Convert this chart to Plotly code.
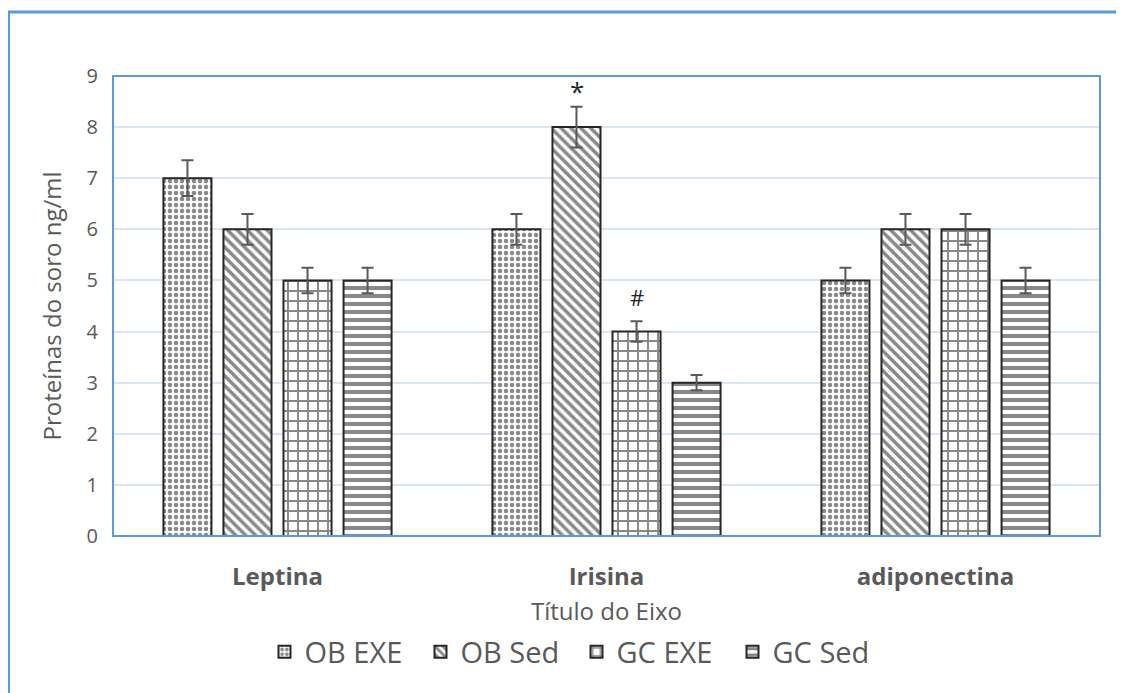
import plotly.graph_objects as go

categories = ["Leptina", "Irisina", "adiponectina"]
series_names = ["OB EXE", "OB Sed", "GC EXE", "GC Sed"]
ob_exe = [7, 6, 5]
ob_sed = [6, 8, 6]
gc_exe = [5, 4, 6]
gc_sed = [5, 3, 5]
ob_exe_err = [0.35, 0.3, 0.25]
ob_sed_err = [0.3, 0.4, 0.3]
gc_exe_err = [0.25, 0.2, 0.3]
gc_sed_err = [0.25, 0.15, 0.25]
y_ticks = [0, 1, 2, 3, 4, 5, 6, 7, 8, 9]

values = [ob_exe, ob_sed, gc_exe, gc_sed]
errors = [ob_exe_err, ob_sed_err, gc_exe_err, gc_sed_err]
patterns = [
    dict(shape=".", fgcolor="#111111", bgcolor="white", size=6, solidity=0.45),
    dict(shape="\\", fgcolor="#111111", bgcolor="white", size=7, solidity=0.5),
    dict(shape="+", fgcolor="#111111", bgcolor="white", size=10, solidity=0.35),
    dict(shape="-", fgcolor="#111111", bgcolor="white", size=8, solidity=0.5),
]

fig = go.Figure()
for name, v, e, p in zip(series_names, values, errors, patterns):
    fig.add_trace(go.Bar(
        x=categories, y=v, name=name,
        marker=dict(color="white", pattern=p, line=dict(color="#262626", width=2)),
        error_y=dict(type="data", array=e, visible=True, color="#595959", thickness=2, width=6),
    ))

# significance marks
fig.add_annotation(x="Irisina", y=ob_sed[1] + ob_sed_err[1], xref="x", yref="y",
                   text="*", showarrow=False, xshift=-30, yshift=16,
                   font=dict(size=26, color="#262626", family="Open Sans"))
fig.add_annotation(x="Irisina", y=gc_exe[1] + gc_exe_err[1], xref="x", yref="y",
                   text="#", showarrow=False, xshift=30, yshift=24,
                   font=dict(size=22, color="#262626", family="Open Sans"))

OFF = 8  # page body margin
W, H = 1124, 693
L = 113 - OFF
T = 76 - OFF
R = W - (1100 - OFF)
B = H - (536 - OFF)
pw, ph = W - L - R, H - T - B

def px(xs):
    return (xs - OFF - L) / pw

def py(ys):
    return (H - B - (ys - OFF)) / ph

# outer chart border
fig.add_shape(type="rect", xref="paper", yref="paper",
              x0=px(8.5), x1=px(1140), y0=py(710), y1=py(12),
              line=dict(color="#5b9bd5", width=3), layer="below")
# plot area border
fig.add_shape(type="rect", xref="paper", yref="paper",
              x0=0, x1=1, y0=0, y1=1,
              line=dict(color="#5b9bd5", width=2), layer="above")

fig.update_layout(
    width=W, height=H,
    margin=dict(l=L, r=R, t=T, b=B),
    paper_bgcolor="white", plot_bgcolor="white",
    barmode="group", bargap=0.27, bargroupgap=0.2,
    font=dict(family="Open Sans", color="#595959"),
    showlegend=True,
    legend=dict(orientation="h", x=0.5 - 30 / pw, xanchor="center", y=py(652), yanchor="middle",
                font=dict(size=29, color="#595959"), itemwidth=30,
                entrywidth=111, entrywidthmode="pixels",
                traceorder="normal"),
    xaxis=dict(
        showgrid=False, showline=True, linecolor="#bfbfbf", linewidth=1,
        ticks="", tickfont=dict(size=24, color="#595959", family="Open Sans"),
        ticklabelstandoff=19,
        title=dict(text="Título do Eixo", font=dict(size=24, color="#595959"), standoff=12),
    ),
    yaxis=dict(
        range=[0, 9], tickvals=y_ticks, showgrid=True, gridcolor="#dae6f4", gridwidth=2,
        zeroline=False, ticks="", tickfont=dict(size=20, color="#595959"),
        ticklabelstandoff=14,
        title=dict(text="Proteínas do soro ng/ml", font=dict(size=24, color="#595959"), standoff=18),
    ),
)
fig.update_xaxes(tickvals=categories, ticktext=["<b>%s</b>" % c for c in categories])

fig.write_html("out.html")
